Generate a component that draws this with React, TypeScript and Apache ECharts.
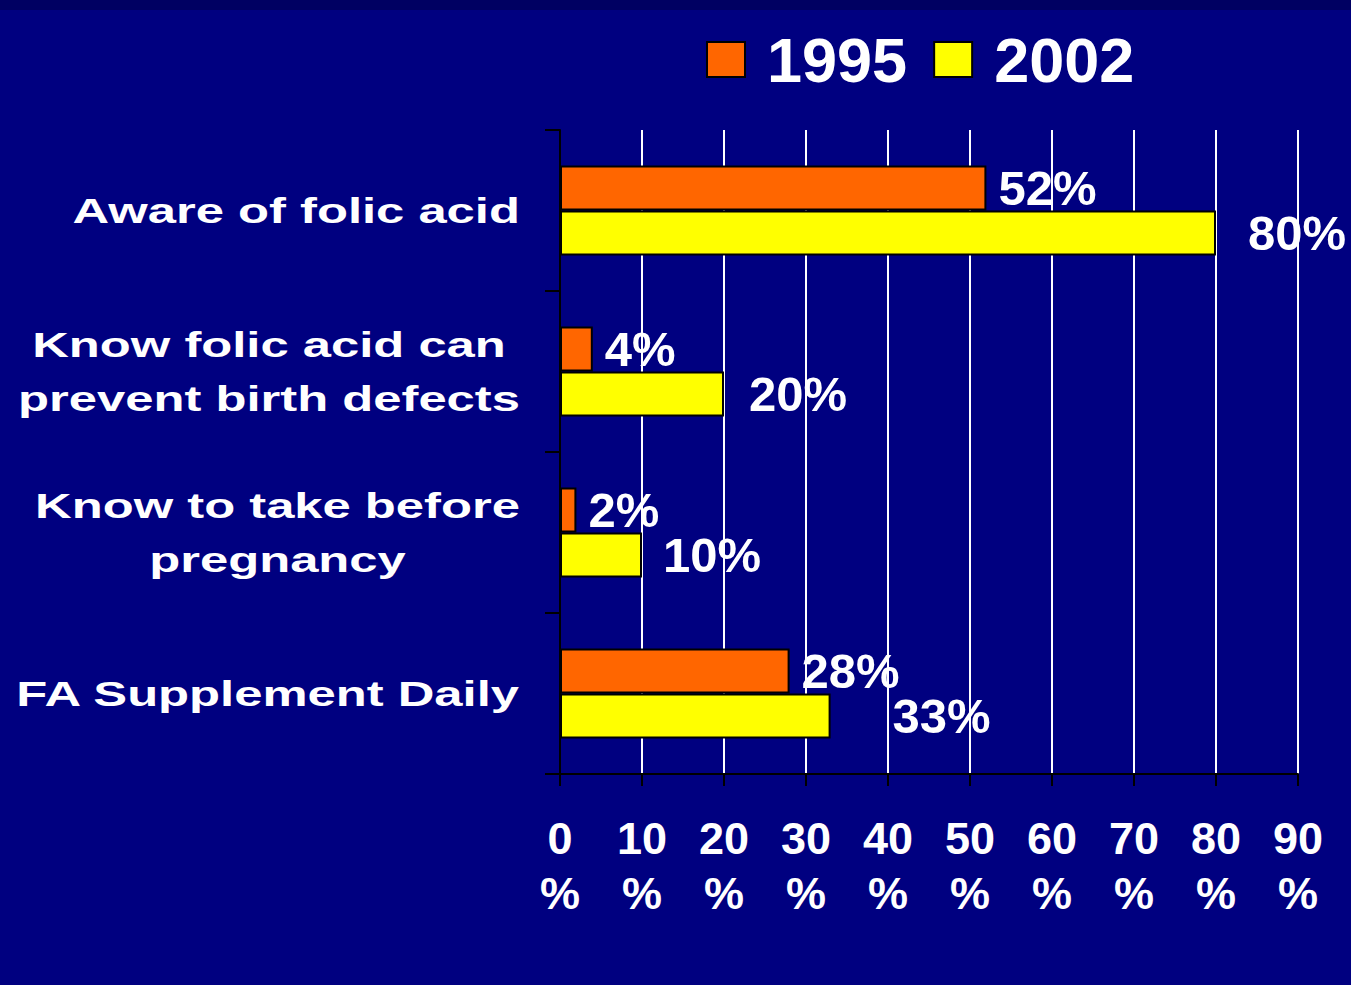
import { useEffect, useRef } from "react";
import * as echarts from "echarts";

// ---- data ----
const categories = [
  "Aware of folic acid",
  "Know folic acid can\nprevent birth defects",
  "Know to take before\npregnancy",
  "FA Supplement Daily",
];
const seriesNames = ["1995", "2002"];
const values1995 = [52, 4, 2, 28];
const values2002 = [80, 20, 10, 33];
const axisMin = 0;
const axisMax = 90;
const axisStep = 10;

// ---- layout / style ----
const FONT = '"Liberation Sans", Arial, Helvetica, sans-serif';
const NAVY = "#000080";
const ORANGE = "#FF6600";
const YELLOW = "#FFFF00";
const CAT_FONT_SIZE = 35;
const CAT_SCALE_X = 1.45;
const CAT_RIGHT = 520;
const CAT_LINE_HEIGHT = 54;
const labelGap1995 = 12;
const labelGap2002 = [32, 25, 21, 62];

function measureLines(text: string): number {
  const ctx = document.createElement("canvas").getContext("2d");
  if (!ctx) return 0;
  ctx.font = `bold ${CAT_FONT_SIZE}px ${FONT}`;
  return Math.max(...text.split("\n").map((l) => ctx.measureText(l).width));
}

export default function App() {
  const ref = useRef<HTMLDivElement>(null);

  useEffect(() => {
    if (!ref.current) return;
    const chart = echarts.init(ref.current, null, { renderer: "svg" });

    const barLabel = {
      show: true,
      position: "right",
      color: "#ffffff",
      fontSize: 49,
      fontWeight: "bold",
      fontFamily: FONT,
      formatter: "{c}%",
    };

    chart.setOption({
      animation: false,
      backgroundColor: NAVY,
      legend: {
        data: seriesNames,
        left: 701,
        top: 23,
        itemWidth: 38,
        itemHeight: 35,
        itemGap: 26,
        icon: "rect",
        formatter: "{t|{name}}",
        textStyle: {
          rich: {
            t: {
              color: "#ffffff",
              fontSize: 63,
              fontWeight: "bold",
              fontFamily: FONT,
              lineHeight: 62,
              padding: [0, 0, 0, 17],
            },
          },
        },
      },
      grid: { left: 560, right: 53, top: 130, bottom: 211, containLabel: false },
      xAxis: {
        type: "value",
        min: axisMin,
        max: axisMax,
        interval: axisStep,
        axisLine: { show: true, lineStyle: { color: "#000000", width: 2 } },
        axisTick: { show: true, length: 12, lineStyle: { color: "#000000", width: 2 } },
        splitLine: { show: true, lineStyle: { color: "#ffffff", width: 2 } },
        axisLabel: {
          color: "#ffffff",
          fontSize: 45,
          fontWeight: "bold",
          fontFamily: FONT,
          lineHeight: 55,
          margin: 37,
          formatter: (v: number) => `${v}\n%`,
        },
      },
      yAxis: {
        type: "category",
        data: categories,
        inverse: true,
        axisLine: { show: true, lineStyle: { color: "#000000", width: 2 } },
        axisTick: { show: true, length: 15, lineStyle: { color: "#000000", width: 2 } },
        axisLabel: { show: false },
        splitLine: { show: false },
      },
      series: [
        {
          name: seriesNames[0],
          type: "bar",
          barWidth: 45,
          barGap: "0%",
          itemStyle: { color: ORANGE, borderColor: "#000000", borderWidth: 2 },
          label: { ...barLabel, distance: labelGap1995 },
          data: values1995,
        },
        {
          name: seriesNames[1],
          type: "bar",
          barWidth: 45,
          barGap: "0%",
          itemStyle: { color: YELLOW, borderColor: "#000000", borderWidth: 2 },
          label: { ...barLabel },
          data: values2002.map((v, i) => ({ value: v, label: { distance: labelGap2002[i] } })),
        },
      ],
    });

    // Category names: wide, centred lines, block right-aligned next to the axis
    const catTexts = categories.map((name) => {
      const y = chart.convertToPixel({ yAxisIndex: 0 }, name) as number;
      const w = measureLines(name) * CAT_SCALE_X;
      return {
        type: "text",
        x: CAT_RIGHT - w / 2,
        y,
        scaleX: CAT_SCALE_X,
        silent: true,
        style: {
          text: name,
          fill: "#ffffff",
          fontSize: CAT_FONT_SIZE,
          fontWeight: "bold",
          fontFamily: FONT,
          lineHeight: CAT_LINE_HEIGHT,
          align: "center",
          verticalAlign: "middle",
          textAlign: "center",
          textVerticalAlign: "middle",
        },
      };
    });

    chart.setOption({
      graphic: [
        {
          type: "rect",
          shape: { x: 0, y: 0, width: 1351, height: 10 },
          style: { fill: "#000062" },
          silent: true,
          z: -1,
        },
        ...catTexts,
      ],
    });

    return () => chart.dispose();
  }, []);

  return (
    <div
      ref={ref}
      style={{ position: "fixed", left: 0, top: 0, width: 1351, height: 985 }}
    />
  );
}
